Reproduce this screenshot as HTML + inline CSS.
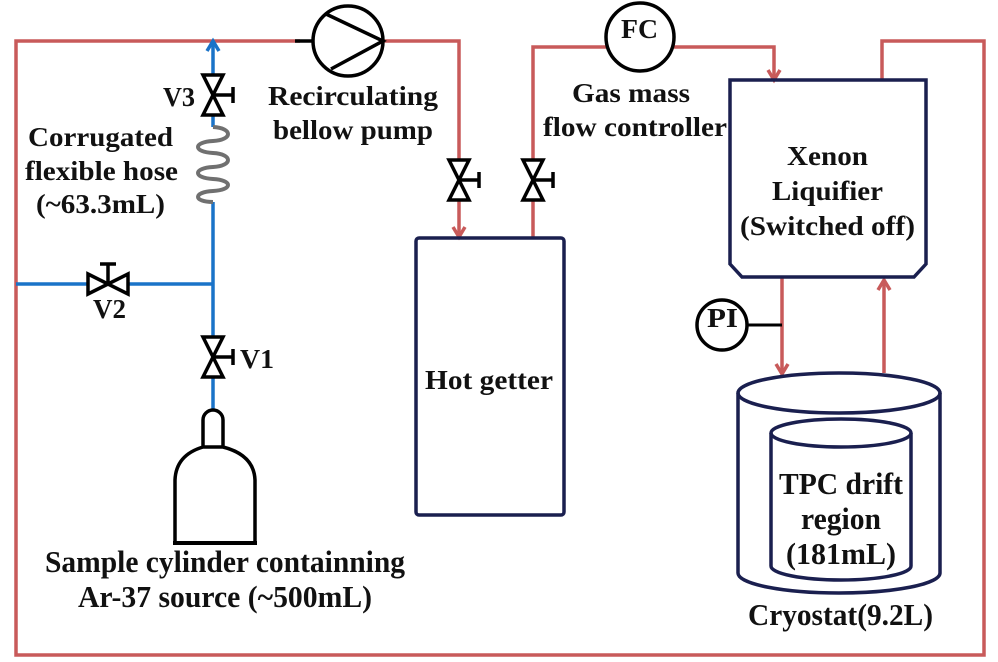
<!DOCTYPE html>
<html><head><meta charset="utf-8"><style>
html,body{margin:0;padding:0;background:#fff}
svg{display:block}
text{font-family:"Liberation Serif",serif;font-weight:bold;fill:#111}
</style></head><body>
<svg width="998" height="662" viewBox="0 0 998 662" xmlns="http://www.w3.org/2000/svg">
<defs>
<g id="vv"><path d="M-10,-20 L10,-20 L-10,20 L10,20 Z" fill="#fff" stroke="#000" stroke-width="3.5" stroke-linejoin="miter"/><line x1="0" y1="0" x2="20" y2="0" stroke="#000" stroke-width="3.5"/><line x1="20" y1="-8" x2="20" y2="8" stroke="#000" stroke-width="3.5"/></g>
</defs>
<g fill="none" stroke="#c85a5a" stroke-width="3.5">
<polyline points="300,41 16,41 16,655 984,655 984,41 882,41 882,80"/>
<polyline points="383,41 459,41 459,236"/>
<polyline points="533,238 533,47 606,47"/>
<polyline points="674,47 774,47 774,78"/>
<line x1="782" y1="277" x2="782" y2="372"/>
<line x1="884" y1="373" x2="884" y2="280"/>
</g>
<g fill="none" stroke="#c85a5a" stroke-width="3.5">
<polyline points="453,227 459,237 465,227"/>
<polyline points="768,70 774,80 780,70"/>
<polyline points="776,364 782,374 788,364"/>
<polyline points="878,290 884,280 890,290"/>
</g>
<g fill="none" stroke="#1a73c8" stroke-width="3.5">
<line x1="213" y1="44" x2="213" y2="127"/>
<line x1="213" y1="202" x2="213" y2="412"/>
<line x1="16" y1="284" x2="213" y2="284"/>
<polyline points="207,51 213,41 219,51"/>
</g>
<path d="M213,127 C233,128 233,140 213,141 C193,142 193,152 213,153 C233,154 233,166 213,167 C193,168 193,178 213,179 C233,180 233,190 213,191 C193,192 193,202 213,202" fill="none" stroke="#707070" stroke-width="4"/>
<use href="#vv" x="213" y="95"/>
<use href="#vv" x="213" y="357"/>
<use href="#vv" x="459" y="180"/>
<use href="#vv" x="533" y="180"/>
<g transform="translate(108,284) rotate(-90)"><use href="#vv"/></g>
<line x1="295" y1="41" x2="313" y2="41" stroke="#000" stroke-width="3.5"/>
<circle cx="348" cy="41" r="35" fill="#fff" stroke="#000" stroke-width="3.5"/>
<polyline points="326,14 383,41 331,69" fill="none" stroke="#000" stroke-width="3.5"/>
<circle cx="640" cy="37" r="34" fill="#fff" stroke="#000" stroke-width="3.5"/>
<text x="621" y="38" font-size="27" textLength="37" lengthAdjust="spacingAndGlyphs">FC</text>
<rect x="416" y="238" width="148" height="277" rx="3" fill="none" stroke="#1a1f4f" stroke-width="3.5"/>
<path d="M730,80 L926,80 L926,264 L914,277 L742,277 L730,264 Z" fill="none" stroke="#1a1f4f" stroke-width="3.5"/>
<line x1="747" y1="325" x2="782" y2="325" stroke="#000" stroke-width="3"/>
<circle cx="722" cy="325" r="25" fill="#fff" stroke="#000" stroke-width="3.5"/>
<text x="707" y="327" font-size="27" textLength="31" lengthAdjust="spacingAndGlyphs">PI</text>
<g fill="none" stroke="#1a1f4f" stroke-width="3.5">
<ellipse cx="839" cy="393" rx="101" ry="20"/>
<path d="M738,393 L738,573 A101,20 0 0 0 940,573 L940,393"/>
<ellipse cx="841" cy="433" rx="70" ry="14"/>
<path d="M771,433 L771,566 A70,14 0 0 0 911,566 L911,433"/>
</g>
<path d="M203,447 L203,420 A10,10 0 0 1 223,420 L223,447 M212,447 L203,447 Q176,455 175,480 L175,543 L255,543 L255,480 Q254,455 223,447 Z" fill="#fff" stroke="#000" stroke-width="3.5"/>
<line x1="173" y1="543" x2="257" y2="543" stroke="#000" stroke-width="4"/>
<g font-size="27" lengthAdjust="spacingAndGlyphs">
<text x="163" y="106" textLength="32" lengthAdjust="spacingAndGlyphs">V3</text>
<text x="28" y="146" textLength="145" lengthAdjust="spacingAndGlyphs">Corrugated</text>
<text x="25" y="180" textLength="153" lengthAdjust="spacingAndGlyphs">flexible hose</text>
<text x="36" y="213" textLength="129" lengthAdjust="spacingAndGlyphs">(~63.3mL)</text>
<text x="268" y="105" textLength="170" lengthAdjust="spacingAndGlyphs">Recirculating</text>
<text x="273" y="139" textLength="160" lengthAdjust="spacingAndGlyphs">bellow pump</text>
<text x="93" y="318" textLength="33" lengthAdjust="spacingAndGlyphs">V2</text>
<text x="240" y="368" textLength="34" lengthAdjust="spacingAndGlyphs">V1</text>
<text x="425" y="389" textLength="128" lengthAdjust="spacingAndGlyphs">Hot getter</text>
<text x="572" y="102" textLength="118" lengthAdjust="spacingAndGlyphs">Gas mass</text>
<text x="543" y="136" textLength="184" lengthAdjust="spacingAndGlyphs">flow controller</text>
<text x="787" y="165" textLength="81" lengthAdjust="spacingAndGlyphs">Xenon</text>
<text x="772" y="200" textLength="111" lengthAdjust="spacingAndGlyphs">Liquifier</text>
<text x="740" y="235" textLength="175" lengthAdjust="spacingAndGlyphs">(Switched off)</text>
</g>
<g font-size="31">
<text x="45" y="572" textLength="360" lengthAdjust="spacingAndGlyphs">Sample cylinder containning</text>
<text x="78" y="607" textLength="294" lengthAdjust="spacingAndGlyphs">Ar-37 source (~500mL)</text>
<text x="779" y="494" textLength="124" lengthAdjust="spacingAndGlyphs">TPC drift</text>
<text x="801" y="529" textLength="80" lengthAdjust="spacingAndGlyphs">region</text>
<text x="786" y="564" textLength="110" lengthAdjust="spacingAndGlyphs">(181mL)</text>
<text x="748" y="625" textLength="185" lengthAdjust="spacingAndGlyphs">Cryostat(9.2L)</text>
</g>
</svg>
</body></html>
